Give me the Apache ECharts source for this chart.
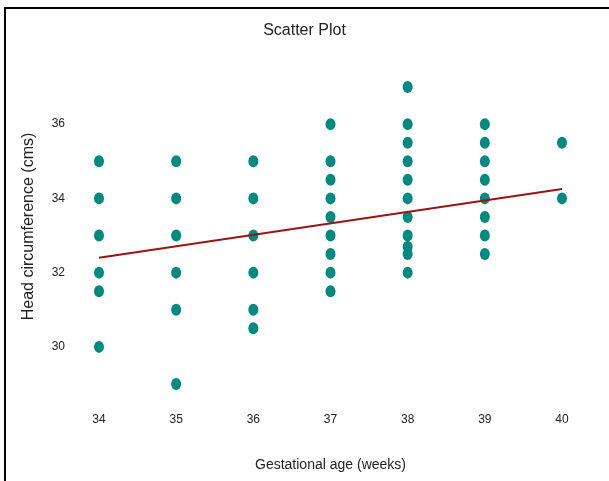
<!DOCTYPE html>
<html lang="en">
<head>
    <meta charset="UTF-8">
    <title>Scatter Plot</title>
    <style>
        html, body { margin: 0; padding: 0; background: #fff; }
        #wrap { position: relative; width: 609px; height: 481px; }
        #chart { width: 609px; height: 481px; }
        /* black frame on top and left, like the pasted screenshot */
        #frame {
            position: absolute; left: 4px; top: 7px; right: 0; bottom: 0;
            border-left: 2px solid #000; border-top: 2px solid #000;
            pointer-events: none;
        }
    </style>
    <script src="https://cdn.jsdelivr.net/npm/echarts@6/dist/echarts.min.js"></script>
</head>
<body>
<div id="wrap">
    <div id="chart"></div>
    <div id="frame"></div>
</div>
<script>
    // gestational age (weeks) and head circumference (cms) readings
    var weeks34 = [35, 34, 33, 32, 31.5, 30];
    var weeks35 = [35, 34, 33, 32, 31, 29];
    var weeks36 = [35, 34, 33, 32, 31, 30.5];
    var weeks37 = [36, 35, 34.5, 34, 33.5, 33, 32.5, 32, 31.5];
    var weeks38 = [37, 36, 35.5, 35, 34.5, 34, 33.5, 33, 32.7, 32.5, 32];
    var weeks39 = [36, 35.5, 35, 34.5, 34, 33.5, 33, 32.5];
    var weeks40 = [35.5, 34];

    // fitted line ends
    var fitX = [34, 40];
    var fitY = [32.4, 34.25];

    var groups = [[34, weeks34], [35, weeks35], [36, weeks36], [37, weeks37],
                  [38, weeks38], [39, weeks39], [40, weeks40]];
    var points = [];
    groups.forEach(function (g) {
        g[1].forEach(function (v) { points.push([g[0], v]); });
    });

    var chart = echarts.init(document.getElementById('chart'));
    var font = 'Liberation Sans, Arial, Helvetica, sans-serif';

    chart.setOption({
        animation: false,
        title: {
            text: 'Scatter Plot',
            left: 'center',
            top: 18,
            textStyle: { fontFamily: font, fontSize: 16, fontWeight: 'normal', color: '#222' }
        },
        grid: { left: 99, right: 47, top: 87, bottom: 97 },
        xAxis: {
            type: 'value',
            min: 34,
            max: 40,
            interval: 1,
            name: 'Gestational age (weeks)',
            nameLocation: 'middle',
            nameGap: 74,
            nameTextStyle: { fontFamily: font, fontSize: 14, color: '#222' },
            axisLine: { show: false },
            axisTick: { show: false },
            splitLine: { show: false },
            axisLabel: { margin: 30, fontFamily: font, fontSize: 12, color: '#222' }
        },
        yAxis: {
            type: 'value',
            min: 29,
            max: 37,
            interval: 1,
            name: 'Head circumference (cms)',
            nameLocation: 'middle',
            nameGap: 62,
            nameTextStyle: { fontFamily: font, fontSize: 16, color: '#222', padding: [0, 0, 0, 18] },
            axisLine: { show: false },
            axisTick: { show: false },
            splitLine: { show: false },
            axisLabel: {
                margin: 34,
                fontFamily: font,
                fontSize: 12,
                color: '#222',
                formatter: function (v) { return v % 2 === 0 ? String(v) : ''; }
            }
        },
        series: [
            {
                type: 'scatter',
                data: points,
                symbol: 'circle',
                symbolSize: [10, 12],
                itemStyle: { color: '#008a80', opacity: 1 },
                z: 2
            },
            {
                type: 'line',
                data: [[fitX[0], fitY[0]], [fitX[1], fitY[1]]],
                symbol: 'none',
                lineStyle: { color: '#9b1414', width: 2 },
                z: 3
            }
        ]
    });
</script>
</body>
</html>
